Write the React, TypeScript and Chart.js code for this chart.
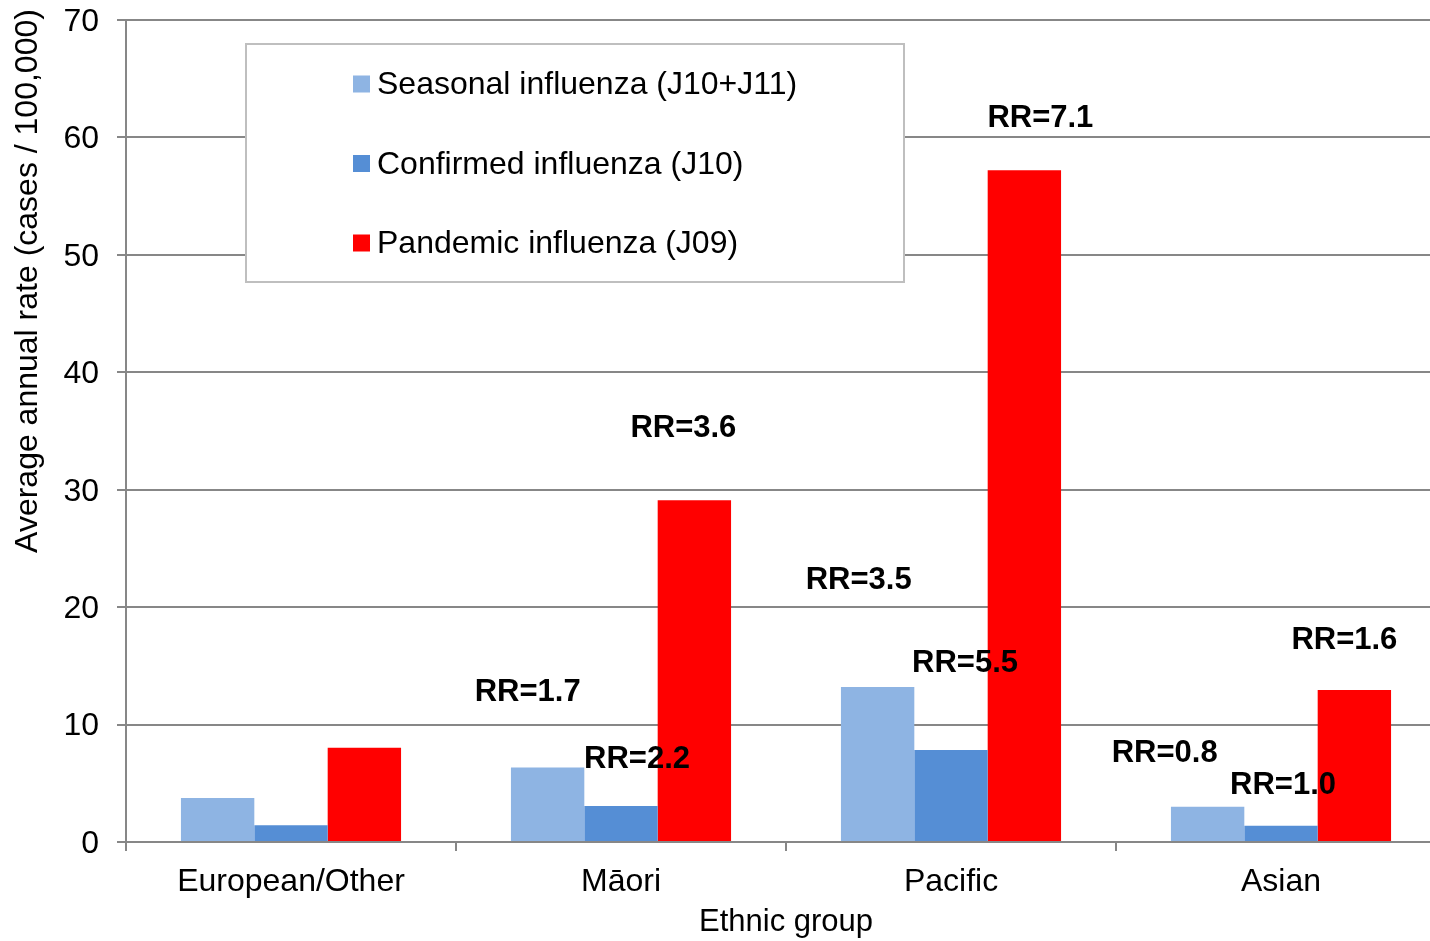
import React, { useEffect, useRef } from 'react';
import { Chart, registerables } from 'chart.js';

Chart.register(...registerables);

// ---- Data ----
const categories = ['European/Other', 'Māori', 'Pacific', 'Asian'];
const seriesNames = [
  'Seasonal influenza (J10+J11)',
  'Confirmed influenza (J10)',
  'Pandemic influenza (J09)',
];
const seasonal = [3.75, 6.35, 13.2, 3.0];
const confirmed = [1.42, 3.07, 7.83, 1.39];
const pandemic = [8.03, 29.1, 57.2, 12.95];

const seasonalRR = ['', 'RR=1.7', 'RR=3.5', 'RR=0.8'];
const confirmedRR = ['', 'RR=2.2', 'RR=5.5', 'RR=1.0'];
const pandemicRR = ['', 'RR=3.6', 'RR=7.1', 'RR=1.6'];

const yMin = 0;
const yMax = 70;
const yStep = 10;

const xTitle = 'Ethnic group';
const yTitle = 'Average annual rate (cases / 100,000)';

// ---- Styles / placement (kept apart from the data) ----
const colors = ['#8EB4E3', '#558ED5', '#FF0000'];
const gridColor = '#878787';
const FONT = '"Liberation Sans", Arial, Helvetica, sans-serif';
// the plot runs a little past the right edge of the picture, as in the original
const CANVAS_W = 1446;
const CANVAS_H = 941;
// pixel offsets of each RR label from the top-centre of its bar
const rrOffsets: number[][][] = [
  [[0, 0], [-20, -75], [-19, -107], [-43, -53]],
  [[0, 0], [16, -46], [14, -87], [2, -40]],
  [[0, 0], [-11, -72], [16, -52], [-10, -49]],
];

const rrLabels = [seasonalRR, confirmedRR, pandemicRR];

const overlayPlugin = {
  id: 'overlay',
  beforeDatasetsDraw(chart: any) {
    const { ctx, chartArea } = chart;
    // legend box inside the plot area
    const bx = chartArea.left + 120;
    const by = chartArea.top + 24;
    const bw = 658;
    const bh = 238;
    ctx.save();
    ctx.fillStyle = '#ffffff';
    ctx.fillRect(bx, by, bw, bh);
    ctx.strokeStyle = '#BFBFBF';
    ctx.lineWidth = 2;
    ctx.strokeRect(bx, by, bw, bh);
    ctx.font = `32px ${FONT}`;
    ctx.textBaseline = 'middle';
    ctx.textAlign = 'left';
    chart.data.datasets.forEach((ds: any, i: number) => {
      const cy = by + 40 + i * 79.5;
      ctx.fillStyle = ds.backgroundColor;
      ctx.fillRect(bx + 107, cy - 8.5, 17, 17);
      ctx.fillStyle = '#000000';
      ctx.fillText(ds.label, bx + 131, cy + 1.5);
    });
    ctx.restore();
  },
  afterDatasetsDraw(chart: any) {
    const { ctx } = chart;
    ctx.save();
    ctx.font = `bold 31px ${FONT}`;
    ctx.fillStyle = '#000000';
    ctx.textAlign = 'center';
    ctx.textBaseline = 'middle';
    rrLabels.forEach((labels, i) => {
      const meta = chart.getDatasetMeta(i);
      meta.data.forEach((el: any, j: number) => {
        const t = labels[j];
        if (!t) return;
        const [dx, dy] = rrOffsets[i][j];
        ctx.fillText(t, el.x + dx, el.y + dy);
      });
    });
    ctx.restore();
  },
  afterDraw(chart: any) {
    const { ctx, chartArea } = chart;
    ctx.save();
    ctx.fillStyle = '#000000';
    ctx.font = `31px ${FONT}`;
    ctx.textAlign = 'center';
    ctx.textBaseline = 'alphabetic';
    ctx.fillText(xTitle, (chartArea.left + chartArea.right) / 2, 931);
    ctx.font = `32px ${FONT}`;
    ctx.translate(28, 281);
    ctx.rotate(-Math.PI / 2);
    ctx.textBaseline = 'middle';
    ctx.fillText(yTitle, 0, 0);
    ctx.restore();
  },
};

export default function App() {
  const canvasRef = useRef<HTMLCanvasElement | null>(null);

  useEffect(() => {
    if (!canvasRef.current) return;
    const chart = new Chart(canvasRef.current, {
      type: 'bar',
      data: {
        labels: categories,
        datasets: [seasonal, confirmed, pandemic].map((values, i) => ({
          label: seriesNames[i],
          data: values,
          backgroundColor: colors[i],
          borderWidth: 0,
          barPercentage: 1.0,
          categoryPercentage: 0.667,
        })),
      },
      options: {
        animation: false,
        responsive: false,
        maintainAspectRatio: false,
        layout: { padding: { top: 20, left: 0, right: 0, bottom: 0 } },
        plugins: {
          legend: { display: false },
          tooltip: { enabled: false },
          title: { display: false },
        },
        scales: {
          x: {
            offset: true,
            grid: {
              display: true,
              offset: true,
              drawOnChartArea: false,
              drawTicks: true,
              tickLength: 9,
              color: gridColor,
              lineWidth: 2,
            },
            border: { display: true, color: gridColor, width: 2 },
            ticks: {
              color: '#000000',
              font: { family: FONT, size: 32 },
              padding: 12,
              maxRotation: 0,
              autoSkip: false,
            },
            afterFit: (s: any) => {
              s.height = 99;
              s.paddingLeft = 0;
              s.paddingRight = 0;
            },
          },
          y: {
            min: yMin,
            max: yMax,
            ticks: {
              stepSize: yStep,
              color: '#000000',
              font: { family: FONT, size: 32 },
              padding: 18,
              labelOffset: 2,
            },
            grid: {
              color: gridColor,
              lineWidth: 2,
              tickLength: 9,
              drawTicks: true,
            },
            border: { display: true, color: gridColor, width: 2 },
            afterFit: (s: any) => {
              s.width = 126;
              s.paddingTop = 0;
              s.paddingBottom = 0;
            },
          },
        },
      },
      plugins: [overlayPlugin],
    });
    return () => chart.destroy();
  }, []);

  return (
    <div
      style={{
        position: 'fixed',
        left: 0,
        top: 0,
        width: 1430,
        height: CANVAS_H,
        overflow: 'hidden',
        background: '#ffffff',
      }}
    >
      <canvas
        ref={canvasRef}
        width={CANVAS_W}
        height={CANVAS_H}
        style={{ width: CANVAS_W, height: CANVAS_H, display: 'block' }}
      />
    </div>
  );
}
